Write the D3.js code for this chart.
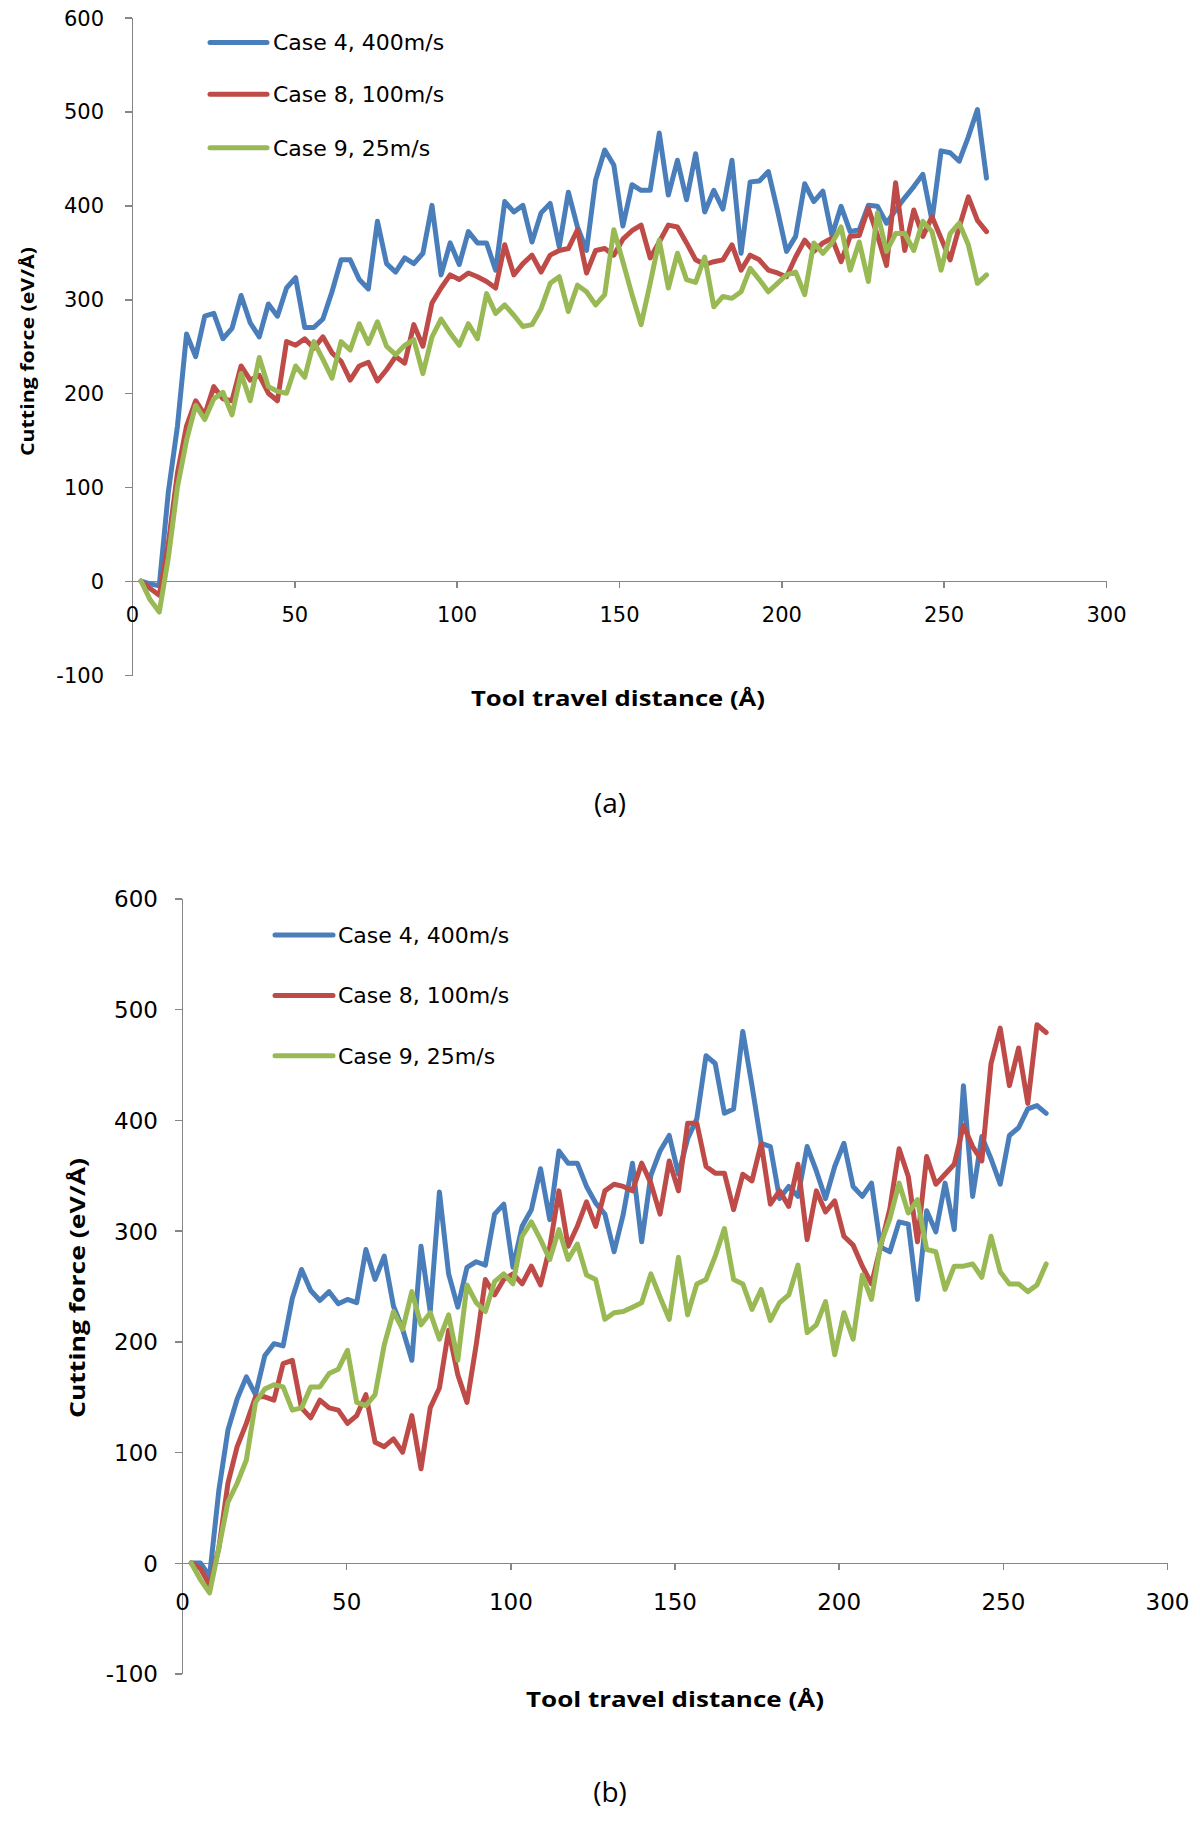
<!DOCTYPE html>
<html><head><meta charset="utf-8">
<script src="https://cdn.jsdelivr.net/npm/d3@7"></script>
<style>body{margin:0;background:#fff}svg{display:block}</style>
</head><body>
<svg id="chart" width="1200" height="1825"></svg>
<script>
// ---------- DATA ----------
const distance = [2.8,5.6,8.4,11.2,14,16.8,19.6,22.4,25.2,28,
30.8,33.6,36.4,39.2,42,44.8,47.6,50.4,53.2,56,
58.8,61.6,64.4,67.2,70,72.8,75.6,78.4,81.2,84,
86.8,89.6,92.4,95.2,98,100.8,103.6,106.4,109.2,112,
114.8,117.6,120.4,123.2,126,128.8,131.6,134.4,137.2,140,
142.8,145.6,148.4,151.2,154,156.8,159.6,162.4,165.2,168,
170.8,173.6,176.4,179.2,182,184.8,187.6,190.4,193.2,196,
198.8,201.6,204.4,207.2,210,212.8,215.6,218.4,221.2,224,
226.8,229.6,232.4,235.2,238,240.8,243.6,246.4,249.2,252,
254.8,257.6,260.4,263.2];

const seriesNames = ["Case 4, 400m/s", "Case 8, 100m/s", "Case 9, 25m/s"];
const xTicks = [0, 50, 100, 150, 200, 250, 300];
const yTicks = [-100, 0, 100, 200, 300, 400, 500, 600];
const xTitle = "Tool travel distance (Å)";
const yTitle = "Cutting force (eV/Å)";
const panelLabels = ["(a)", "(b)"];

// Panel (a)
const case4A = [0,-3,-5,95,165,263,239,282,285,258,
269,304,275,260,295,282,312,323,270,270,
279,308,342,342,321,311,383,338,329,344,
338,349,400,326,360,337,372,360,360,331,
404,393,400,361,392,402,356,414,377,352,
427,459,443,378,422,416,416,477,411,448,
406,455,393,416,396,448,349,425,426,436,
395,351,367,423,404,415,368,399,372,374,
400,399,381,395,408,420,433,384,458,456,
447,473,502,429];
const case8A = [0,-8,-15,40,115,165,192,177,207,194,
192,229,214,219,200,192,255,251,258,248,
260,243,234,214,229,233,213,225,239,232,
273,250,296,312,326,321,328,324,319,312,
358,326,338,347,329,347,352,354,374,328,
352,354,347,364,373,379,344,361,379,377,
360,342,337,340,342,358,331,347,342,331,
328,324,345,363,351,360,365,340,367,368,
397,368,336,424,352,395,367,388,365,342,
377,409,384,372];
const case9A = [0,-20,-33,25,100,150,187,172,194,201,
177,221,192,238,207,202,200,229,217,255,
236,216,255,246,274,253,276,250,241,251,
257,221,260,279,264,251,274,258,306,285,
294,283,271,273,290,317,324,287,315,308,
294,305,374,340,305,273,317,363,312,349,
321,318,345,292,303,301,308,333,321,308,
317,326,329,305,360,349,360,377,331,361,
319,392,351,370,370,352,383,372,331,370,
381,358,317,326];

// Panel (b)
const case4B = [0,0,-12,65,120,148,168,152,187,198,
196,239,265,246,237,245,234,238,235,283,
256,277,232,211,183,286,227,335,261,231,
267,272,269,315,324,267,304,319,356,310,
372,361,361,340,325,315,281,315,361,290,
350,372,386,351,383,401,458,451,406,410,
480,431,379,376,329,340,331,376,354,329,
358,379,340,331,343,285,281,308,306,238,
318,299,343,301,431,331,385,365,342,386,
393,410,413,406];
const case8B = [0,-5,-20,13,72,105,126,150,150,147,
180,183,140,131,147,140,138,126,133,152,
109,105,112,100,133,85,140,158,210,170,
145,197,256,242,256,261,252,268,251,285,
336,286,304,326,304,336,342,340,336,361,
343,315,363,336,397,397,358,352,352,319,
351,345,379,324,336,322,360,292,336,317,
327,295,287,268,252,286,320,374,349,290,
367,342,351,360,395,376,363,451,483,431,
465,415,486,479];
const case9B = [0,-15,-27,13,55,72,93,145,157,161,
159,138,140,159,159,171,175,192,145,142,
152,197,227,211,245,215,226,202,224,183,
251,235,227,254,261,252,295,308,292,274,
301,274,288,260,256,220,226,227,231,235,
261,240,220,276,224,252,256,277,302,256,
252,229,247,219,235,242,269,208,215,236,
188,226,202,260,238,288,311,343,316,328,
283,281,247,268,268,270,258,295,263,252,
252,245,251,270];

// ---------- STYLE / LAYOUT ----------
const colors = ["#4A7EBB", "#BE4B48", "#98B954"];
const axisColor = "#868686";
const tickFont = "'DejaVu Sans', Verdana, sans-serif";
const titleFont = "'Open Sans', 'Liberation Sans', sans-serif";

const panels = [
  { series: [case4A, case8A, case9A], label: panelLabels[0],
    x0: 132, x1: 1106, yTop: 17.5, yBot: 675,
    tickFontSize: 21, yLabelGap: 28, xLabelDy: 33.5,
    legendX0: 210, legendX1: 267, legendTextX: 273, legendYs: [42.5, 94.3, 147.8],
    xTitleX: 618, xTitleY: 698, xTitleLen: 294,
    yTitleX: 28, yTitleY: 351.5, yTitleLen: 209, yTitleSize: 18,
    labelX: 610, labelY: 803 },
  { series: [case4B, case8B, case9B], label: panelLabels[1],
    x0: 182, x1: 1167, yTop: 898.5, yBot: 1673.7,
    tickFontSize: 23, yLabelGap: 24, xLabelDy: 38.5,
    legendX0: 275, legendX1: 333, legendTextX: 338, legendYs: [935, 995.5, 1055.7],
    xTitleX: 675, xTitleY: 1699, xTitleLen: 298,
    yTitleX: 77, yTitleY: 1288, yTitleLen: 260, yTitleSize: 22,
    labelX: 610, labelY: 1792 }
];

const svg = d3.select("#chart");
svg.append("rect").attr("width", 1200).attr("height", 1825).attr("fill", "#fff");
const fmt = d => String(d);

panels.forEach(p => {
  const x = d3.scaleLinear().domain([0, 300]).range([p.x0, p.x1]);
  const y = d3.scaleLinear().domain([-100, 600]).range([p.yBot, p.yTop]);
  const g = svg.append("g");

  // y axis
  const yAx = g.append("g").attr("transform", `translate(${p.x0},0)`)
    .call(d3.axisLeft(y).tickValues(yTicks).tickSize(7).tickSizeOuter(0).tickFormat(fmt));
  yAx.select(".domain").attr("stroke", axisColor).attr("stroke-width", 1.5);
  yAx.selectAll(".tick line").attr("stroke", axisColor).attr("stroke-width", 1.5);
  yAx.selectAll(".tick text").attr("x", -p.yLabelGap).attr("dy", "0.36em")
    .attr("font-family", tickFont).attr("font-size", p.tickFontSize).attr("fill", "#000");

  // x axis at y = 0
  const xAx = g.append("g").attr("transform", `translate(0,${y(0)})`)
    .call(d3.axisBottom(x).tickValues(xTicks).tickSize(7).tickSizeOuter(0).tickFormat(fmt));
  xAx.select(".domain").attr("stroke", axisColor).attr("stroke-width", 1.5);
  xAx.selectAll(".tick line").attr("stroke", axisColor).attr("stroke-width", 1.5);
  xAx.selectAll(".tick text").attr("y", p.xLabelDy).attr("dy", "0.36em")
    .attr("font-family", tickFont).attr("font-size", p.tickFontSize).attr("fill", "#000");
  g.selectAll(".domain, .tick line").attr("shape-rendering", "crispEdges");

  // lines
  const line = d3.line().x((d, i) => x(distance[i])).y(d => y(d));
  p.series.forEach((s, k) => {
    g.append("path").datum(s).attr("d", line)
      .attr("fill", "none").attr("stroke", colors[k]).attr("stroke-width", 5)
      .attr("stroke-linejoin", "round").attr("stroke-linecap", "round");
  });

  // legend
  seriesNames.forEach((name, k) => {
    g.append("line").attr("x1", p.legendX0).attr("x2", p.legendX1)
      .attr("y1", p.legendYs[k]).attr("y2", p.legendYs[k])
      .attr("stroke", colors[k]).attr("stroke-width", 5).attr("stroke-linecap", "round");
    g.append("text").attr("x", p.legendTextX).attr("y", p.legendYs[k]).attr("dy", "0.36em")
      .attr("font-family", tickFont).attr("font-size", 22).attr("fill", "#000").text(name);
  });

  // axis titles
  g.append("text").attr("x", p.xTitleX).attr("y", p.xTitleY).attr("dy", "0.36em")
    .attr("text-anchor", "middle").attr("font-family", titleFont).attr("font-weight", "bold")
    .attr("font-size", 21).attr("textLength", p.xTitleLen).attr("lengthAdjust", "spacingAndGlyphs")
    .text(xTitle);
  g.append("text").attr("transform", `translate(${p.yTitleX},${p.yTitleY}) rotate(-90)`)
    .attr("dy", "0.36em").attr("text-anchor", "middle").attr("font-family", titleFont)
    .attr("font-weight", "bold").attr("font-size", p.yTitleSize)
    .attr("textLength", p.yTitleLen).attr("lengthAdjust", "spacingAndGlyphs")
    .text(yTitle);

  // panel label
  g.append("text").attr("x", p.labelX).attr("y", p.labelY).attr("dy", "0.36em")
    .attr("text-anchor", "middle").attr("font-family", titleFont).attr("font-size", 28)
    .attr("fill", "#000").text(p.label);
});
</script>
</body></html>
